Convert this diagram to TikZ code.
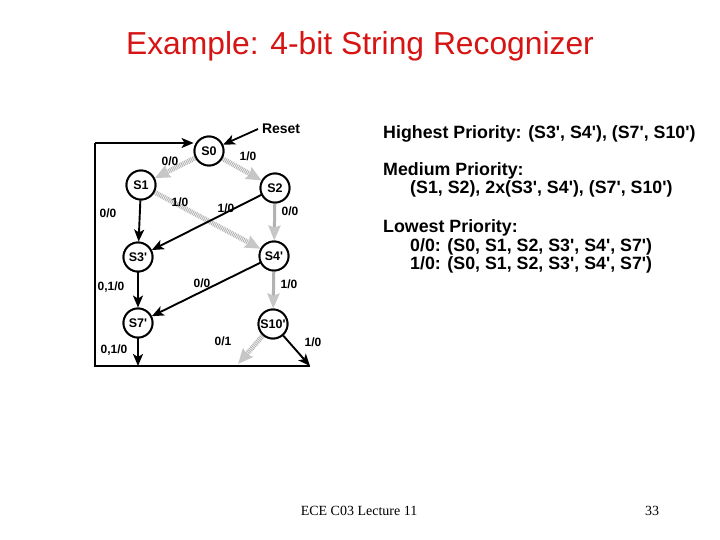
\documentclass[tikz,border=0pt]{standalone}
\usepackage{fontspec}
\setmainfont{Liberation Sans}
\newfontfamily\arialf{Liberation Sans}
\newfontfamily\timesf{Liberation Serif}
\usetikzlibrary{arrows.meta}
\definecolor{titlered}{RGB}{215,20,20}
\begin{document}
\begin{tikzpicture}[x=1pt,y=-1pt,
  st/.style={circle,draw,line width=1.9pt,minimum size=29pt,inner sep=0pt,fill=white,font=\arialf\fontsize{12.5}{12.5}\selectfont\bfseries},
  lbl/.style={font=\arialf\fontsize{12}{12}\selectfont\bfseries,inner sep=0pt},
  ptxt/.style={anchor=west,font=\arialf\fontsize{17.8}{17.8}\selectfont\bfseries,inner sep=0pt},
  solidarr/.style={line width=1.9pt,-{Stealth[length=12pt,width=10pt,inset=3pt]}},
  hatch/.style={draw=gray!60,line width=5pt,dash pattern=on 0.9pt off 0.9pt,-{Stealth[length=15pt,width=13pt,inset=2pt,color=gray!45,fill=gray!35]}},
  grayln/.style={draw=gray!60,line width=3pt,-{Stealth[length=15pt,width=12pt,inset=2pt,color=gray!45,fill=gray!35]}}
]
\useasboundingbox (0,0) rectangle (720,540);
\fill[white] (0,0) rectangle (720,540);

% title
\node[text=titlered,font=\arialf\fontsize{31.8}{31.8}\selectfont,inner sep=0pt] (title) at (360,46) {Example: 4-bit String Recognizer};

% states
\node[st] (S0) at (209,151) {S0};
\node[st] (S1) at (141,185) {S1};
\node[st] (S2) at (275,188) {S2};
\node[st] (S3) at (138,257) {S3'};
\node[st] (S4) at (274,256) {S4'};
\node[st] (S7) at (138,323) {S7'};
\node[st] (S10) at (273,324) {S10'};

% reset
\node[lbl,anchor=west,font=\arialf\fontsize{14}{14}\selectfont\bfseries,outer sep=4pt] (reset) at (258,129) {Reset};
\draw[solidarr,line width=1.8pt] (reset.west) -- (S0);

% feedback frame
\coordinate (bl) at (95,366);
\coordinate (tl) at (95,143);
\coordinate (br) at (310,366);
\coordinate (hb) at (238,364);
\draw[line width=2pt] (br) -- (bl) -- (tl);
\draw[solidarr] (tl) -- (tl -| S0.west);

% hatched (low priority) edges
\draw[hatch] (S0) -- (S1);
\draw[hatch] (S0) -- (S2);
\draw[hatch] (S1) -- (S4);
\draw[grayln] (S2) -- (S4);
\draw[grayln] (S4) -- (S10);
\draw[hatch] (S10) -- (hb);

% solid edges
\draw[solidarr] (S1) -- (S3);
\draw[solidarr] (S2) -- (S3);
\draw[solidarr] (S3) -- (S7);
\draw[solidarr] (S4) -- (S7);
\draw[solidarr] (S7) -- (S7 |- bl);
\draw[solidarr] (S10) -- (br);

% redraw states on top
\foreach \n/\t in {S0/S0,S1/S1,S2/S2,S3/S3',S4/S4',S7/S7',S10/S10'}{
  \node[st] at (\n) {\t};
}

% edge labels
\node[lbl] (l1) at (170,161) {0/0};
\node[lbl] (l2) at (248,156) {1/0};
\node[lbl] (l3) at (108,213) {0/0};
\node[lbl] (l4) at (180,202) {1/0};
\node[lbl] (l5) at (226,208) {1/0};
\node[lbl] (l6) at (290,211) {0/0};
\node[lbl] (l7) at (111,287) {0,1/0};
\node[lbl] (l8) at (202,283) {0/0};
\node[lbl] (l9) at (289,284) {1/0};
\node[lbl] (l10) at (223,341) {0/1};
\node[lbl] (l11) at (313,342) {1/0};
\node[lbl] (l12) at (114,350) {0,1/0};

% priorities
\node[ptxt] (h1) at (383,134) {Highest Priority: (S3', S4'), (S7', S10')};
\node[ptxt] (m1) at (383,171) {Medium Priority:};
\node[ptxt] (m2) at (410,189) {(S1, S2), 2x(S3', S4'), (S7', S10')};
\node[ptxt] (w1) at (383,228) {Lowest Priority:};
\node[ptxt] (w2) at (410,247) {0/0: (S0, S1, S2, S3', S4', S7')};
\node[ptxt] (w3) at (410,265) {1/0: (S0, S1, S2, S3', S4', S7')};

% footer
\node[font=\timesf\fontsize{14}{14}\selectfont,inner sep=0pt] (foot) at (359,511) {ECE C03 Lecture 11};
\node[font=\timesf\fontsize{14}{14}\selectfont,inner sep=0pt] (pg) at (652,511) {33};
\end{tikzpicture}
\end{document}
